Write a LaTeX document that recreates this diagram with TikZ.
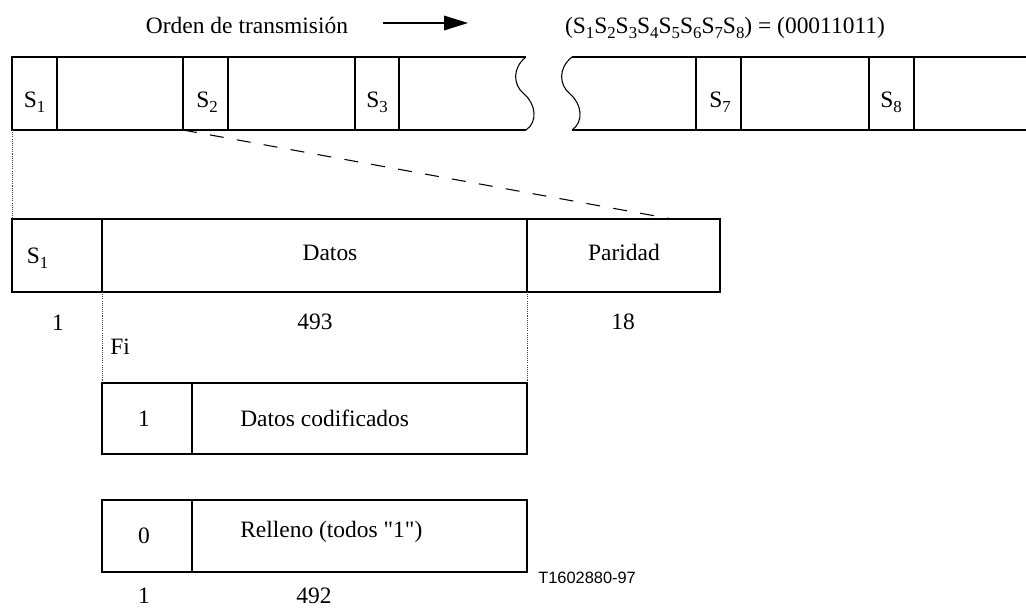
\documentclass[tikz,border=0pt]{standalone}
\usepackage{fontspec}
\setmainfont{Liberation Serif}[Ligatures=TeXOff]
\newfontfamily\labelsans{Liberation Sans}
\usetikzlibrary{arrows.meta}
\newcommand{\ssub}[1]{\raisebox{-0.5ex}{\fontsize{12.6}{13}\selectfont #1}}
\begin{document}
\begin{tikzpicture}[x=0.75pt,y=-0.75pt,
  txt/.style={font=\fontsize{17.6}{20}\selectfont, inner sep=0pt, anchor=base},
  txtl/.style={txt, anchor=base west},
  frame/.style={draw=black, line width=0.8pt},
  dotline/.style={draw=black!75, line width=0.6pt, dash pattern=on 0.8pt off 0.8pt},
  dashline/.style={draw=black, line width=0.8pt, dash pattern=on 10.5pt off 10pt},
  arrowline/.style={draw=black, line width=0.9pt, -{Triangle[length=18pt,width=11pt]}}]
\useasboundingbox (0,0) rectangle (1026,608);
\clip (0,0) rectangle (1026,608);

% header
\node[txt] (orden) at (247,33) {Orden de transmisión};
\coordinate (arrS) at (383,23);
\coordinate (arrE) at (468,23);
\draw[arrowline] (arrS) -- (arrE);
\node[txt] (eq) at (725,33) {(S\ssub{1}S\ssub{2}S\ssub{3}S\ssub{4}S\ssub{5}S\ssub{6}S\ssub{7}S\ssub{8}) = (00011011)};

% top bar, first part
\draw[frame] (526,57) -- (12,57) -- (12,130) -- (526,130);
\draw[frame] (526,57) .. controls (512,68) and (513,85) .. (524,94)
                      .. controls (536,104) and (538,122) .. (526,130);
\foreach \xx in {57,183,228,355,399} \draw[frame] (\xx,57) -- (\xx,130);
% top bar, second part
\draw[frame] (1030,57) -- (572,57);
\draw[frame] (1030,130) -- (572,130);
\draw[frame] (572,57) .. controls (558,68) and (559,85) .. (570,94)
                      .. controls (582,104) and (584,122) .. (572,130);
\foreach \xx in {696,741,869,914} \draw[frame] (\xx,57) -- (\xx,130);

\node[txt] (ts1) at (34.5,107) {S\ssub{1}};
\node[txt] (ts2) at (207,107) {S\ssub{2}};
\node[txt] (ts3) at (377,107) {S\ssub{3}};
\node[txt] (ts7) at (720,107) {S\ssub{7}};
\node[txt] (ts8) at (891,107) {S\ssub{8}};

% connectors from top bar to frame
\coordinate (s1bl) at (12,130);
\coordinate (s2bl) at (183,130);
\coordinate (frTL) at (12,219);
\coordinate (parT) at (672,219);
\draw[dotline] (s1bl) -- (frTL);
\draw[dashline] (s2bl) -- (parT);

% frame
\draw[frame] (12,219) rectangle (720,292);
\draw[frame] (102,219) -- (102,292);
\draw[frame] (527,219) -- (527,292);
\node[txt] (fs1) at (37.5,263) {S\ssub{1}};
\node[txt] (datos) at (330,260) {Datos};
\node[txt] (parid) at (624,260) {Paridad};
\node[txt] (n1) at (58,330) {1};
\node[txt] (n493) at (315,329) {493};
\node[txt] (n18) at (623,329) {18};
\node[txtl] (fi) at (110,354) {Fi};

% expansion
\coordinate (dL) at (102,292);
\coordinate (dR) at (527,292);
\coordinate (bL) at (102,383);
\coordinate (bR) at (527,383);
\draw[dotline] (dL) -- (bL);
\draw[dotline] (dR) -- (bR);

\draw[frame] (102,383) rectangle (527,454);
\draw[frame] (192,383) -- (192,454);
\node[txt] (b1) at (144,426) {1};
\node[txtl] (bdc) at (240,426) {Datos codificados};

\draw[frame] (102,500) rectangle (527,572);
\draw[frame] (192,500) -- (192,572);
\node[txt] (b0) at (144,543) {0};
\node[txtl] (brel) at (240,537) {Relleno (todos "1")};

\node[txt] (m1) at (144,603) {1};
\node[txt] (m492) at (314,603) {492};
\node[font=\labelsans\fontsize{12.3}{14}\selectfont, inner sep=0pt, anchor=base west] (tag) at (538,583) {T1602880-97};
\end{tikzpicture}
\end{document}
